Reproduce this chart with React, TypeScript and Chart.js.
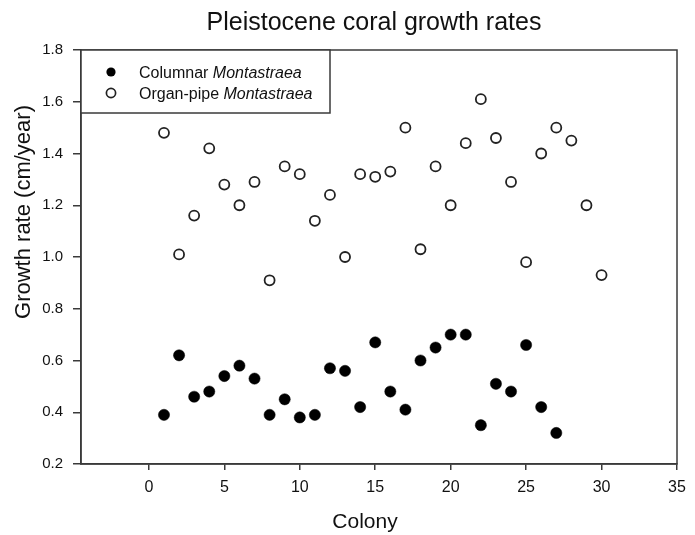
import React, { useEffect, useRef } from "react";
import { Chart, registerables } from "chart.js";

Chart.register(...registerables);

const chartTitle = "Pleistocene coral growth rates";
const xAxisTitle = "Colony";
const yAxisTitle = "Growth rate (cm/year)";

const columnarLabel = ["Columnar ", "Montastraea"];
const organPipeLabel = ["Organ-pipe ", "Montastraea"];

const columnarColonies = [1, 2, 3, 4, 5, 6, 7, 8, 9, 10, 11, 12, 13, 14, 15, 16, 17, 18, 19, 20, 21, 22, 23, 24, 25, 26, 27];
const columnarRates = [0.39, 0.62, 0.46, 0.48, 0.54, 0.58, 0.53, 0.39, 0.45, 0.38, 0.39, 0.57, 0.56, 0.42, 0.67, 0.48, 0.41, 0.6, 0.65, 0.7, 0.7, 0.35, 0.51, 0.48, 0.66, 0.42, 0.32];

const organPipeColonies = [1, 2, 3, 4, 5, 6, 7, 8, 9, 10, 11, 12, 13, 14, 15, 16, 17, 18, 19, 20, 21, 22, 23, 24, 25, 26, 27, 28, 29, 30];
const organPipeRates = [1.48, 1.01, 1.16, 1.42, 1.28, 1.2, 1.29, 0.91, 1.35, 1.32, 1.14, 1.24, 1.0, 1.32, 1.31, 1.33, 1.5, 1.03, 1.35, 1.2, 1.44, 1.61, 1.46, 1.29, 0.98, 1.4, 1.5, 1.45, 1.2, 0.93];

const xTicks = [0, 5, 10, 15, 20, 25, 30, 35];
const yTicks = [0.2, 0.4, 0.6, 0.8, 1.0, 1.2, 1.4, 1.6, 1.8];

const FONT = "'Liberation Sans', Arial, Helvetica, sans-serif";
const INK = "#111111";
const AXIS = "#3a3a3a";

const decorPlugin = {
  id: "decor",
  afterDatasetsDraw(chart: any) {
    const { ctx, chartArea } = chart;
    const { left, top, right, bottom } = chartArea;
    ctx.save();

    // frame
    ctx.strokeStyle = AXIS;
    ctx.lineWidth = 1.5;
    ctx.strokeRect(left, top, right - left, bottom - top);

    // legend box
    const lw = 249;
    const lh = 63;
    ctx.fillStyle = "#ffffff";
    ctx.fillRect(left, top, lw, lh);
    ctx.strokeRect(left, top, lw, lh);

    const mx = left + 30;
    const tx = left + 58;
    const rows = [
      { label: columnarLabel, filled: true, cy: top + 22, base: top + 27.5 },
      { label: organPipeLabel, filled: false, cy: top + 43, base: top + 48.5 },
    ];
    for (const r of rows) {
      ctx.beginPath();
      ctx.arc(mx, r.cy, 4.6, 0, Math.PI * 2);
      if (r.filled) {
        ctx.fillStyle = "#000";
        ctx.fill();
      } else {
        ctx.lineWidth = 1.7;
        ctx.strokeStyle = "#222";
        ctx.stroke();
      }
      ctx.fillStyle = INK;
      ctx.textBaseline = "alphabetic";
      ctx.textAlign = "left";
      ctx.font = `16px ${FONT}`;
      ctx.fillText(r.label[0], tx, r.base);
      const w = ctx.measureText(r.label[0]).width;
      ctx.font = `italic 16px ${FONT}`;
      ctx.fillText(r.label[1], tx + w, r.base);
    }

    // main title
    ctx.fillStyle = INK;
    ctx.textAlign = "center";
    ctx.textBaseline = "alphabetic";
    ctx.font = `25px ${FONT}`;
    ctx.fillText(chartTitle, 374, 30);

    // x title
    ctx.font = `21px ${FONT}`;
    ctx.fillText(xAxisTitle, 365, 528);

    // y title
    ctx.save();
    ctx.translate(30, 212);
    ctx.rotate(-Math.PI / 2);
    ctx.font = `22px ${FONT}`;
    ctx.fillText(yAxisTitle, 0, 0);
    ctx.restore();

    ctx.restore();
  },
};

export default function App() {
  const ref = useRef<HTMLCanvasElement | null>(null);

  useEffect(() => {
    if (!ref.current) return;
    const chart = new Chart(ref.current, {
      type: "scatter",
      data: {
        datasets: [
          {
            label: columnarLabel.join(""),
            data: columnarColonies.map((c, i) => ({ x: c, y: columnarRates[i] })),
            pointRadius: 5.6,
            pointHoverRadius: 5.6,
            pointBackgroundColor: "#000",
            pointBorderColor: "#000",
            pointBorderWidth: 0.5,
          },
          {
            label: organPipeLabel.join(""),
            data: organPipeColonies.map((c, i) => ({ x: c, y: organPipeRates[i] })),
            pointRadius: 5,
            pointHoverRadius: 5,
            pointBackgroundColor: "rgba(255,255,255,0)",
            pointBorderColor: "#222",
            pointBorderWidth: 1.8,
          },
        ],
      },
      options: {
        responsive: false,
        animation: false,
        layout: { padding: { top: 50, right: 18, left: 0, bottom: 0 } },
        plugins: {
          legend: { display: false },
          title: { display: false },
          tooltip: { enabled: false },
        },
        scales: {
          x: {
            type: "linear",
            min: -4.5,
            max: 35,
            afterBuildTicks: (scale: any) => {
              scale.ticks = xTicks.map((v) => ({ value: v }));
            },
            afterFit: (scale: any) => {
              scale.height = 71;
              scale.paddingLeft = 0;
              scale.paddingRight = 0;
            },
            ticks: {
              color: INK,
              font: { family: FONT, size: 16 },
              padding: 8,
              maxRotation: 0,
              callback: (v: any) => String(v),
            },
            grid: {
              drawOnChartArea: false,
              drawTicks: true,
              tickLength: 6,
              color: AXIS,
              lineWidth: 1.5,
            },
            border: { display: true, color: AXIS, width: 1.5 },
          },
          y: {
            type: "linear",
            min: 0.2,
            max: 1.8,
            afterBuildTicks: (scale: any) => {
              scale.ticks = yTicks.map((v) => ({ value: v }));
            },
            afterFit: (scale: any) => {
              scale.width = 81;
              scale.paddingTop = 0;
              scale.paddingBottom = 0;
            },
            ticks: {
              color: INK,
              font: { family: FONT, size: 15 },
              padding: 10,
              callback: (v: any) => Number(v).toFixed(1),
            },
            grid: {
              drawOnChartArea: false,
              drawTicks: true,
              tickLength: 8,
              color: AXIS,
              lineWidth: 1.5,
            },
            border: { display: true, color: AXIS, width: 1.5 },
          },
        },
      },
      plugins: [decorPlugin],
    });
    return () => chart.destroy();
  }, []);

  return (
    <div style={{ position: "fixed", left: 0, top: 0, width: 695, height: 535, background: "#fff" }}>
      <canvas ref={ref} width={695} height={535} style={{ display: "block" }} />
    </div>
  );
}
